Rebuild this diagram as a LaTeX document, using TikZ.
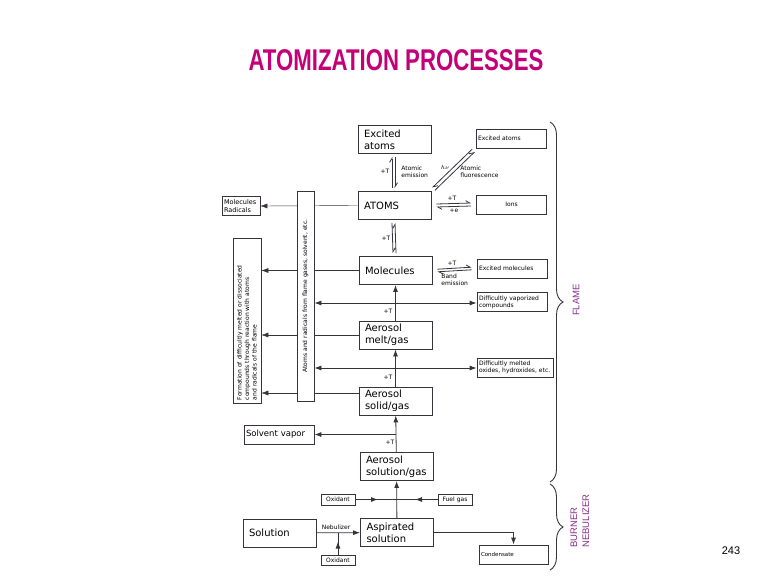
\documentclass[tikz,border=0pt]{standalone}
\usepackage{fontspec}
\setmainfont{DejaVu Sans}
\newfontfamily\headfont{Liberation Sans}
\usetikzlibrary{arrows.meta,backgrounds,decorations.pathreplacing,decorations.markings}
\definecolor{headcol}{RGB}{196,0,120}
\definecolor{ink}{RGB}{55,50,60}
\definecolor{zonecol}{RGB}{135,45,135}
\tikzset{
  box/.style={draw=ink,fill=white,line width=0.9pt,minimum width=73pt,minimum height=28pt,text width=61pt,inner sep=0pt,align=left,font=\fontsize{10}{12}\selectfont},
  sbox/.style={draw=ink,fill=white,line width=0.8pt,minimum height=19pt,text width=66pt,inner xsep=2pt,inner ysep=0pt,align=left,font=\fontsize{6}{7}\selectfont},
  tbox/.style={draw=ink,fill=white,line width=0.8pt,inner xsep=3pt,inner ysep=1pt,align=left,font=\fontsize{6}{7.5}\selectfont},
  lbl/.style={inner sep=0pt,align=left,font=\fontsize{6}{7}\selectfont},
  harp/.style={-{Straight Barb[left,length=4pt,width=5pt]},line width=0.8pt,draw=ink},
  curly/.style={decorate,decoration={brace,amplitude=13pt,aspect=0.5},line width=0.9pt,draw=ink},
  midarrow/.style={decoration={markings,mark=at position #1 with {\arrow{Latex[length=7pt,width=5pt]}}},postaction={decorate}},
  zone/.style={text=zonecol,inner sep=0pt,align=left,font=\headfont\fontsize{9.5}{12}\selectfont,rotate=90},
}
\begin{document}
\begin{tikzpicture}[x=1pt,y=-1pt,>={Latex[length=7pt,width=5pt]},line width=0.8pt]
\useasboundingbox (0,0) rectangle (767,578);
\node[text=headcol,font=\headfont\bfseries\fontsize{30}{30}\selectfont,xscale=0.74] (head) at (396,60) {ATOMIZATION PROCESSES};
\node[font=\headfont\fontsize{11}{11}\selectfont] (page) at (731,551) {243};

\node[box] (exa) at (394.5,139.5) {Excited\\atoms};
\node[box] (atoms) at (394.5,205.5) {ATOMS};
\node[box] (mol) at (395.5,270.5) {Molecules};
\node[box] (melt) at (395.5,335) {Aerosol\\melt/gas};
\node[box] (solid) at (395.5,401) {Aerosol\\solid/gas};
\node[box] (soln) at (396.5,466.5) {Aerosol\\solution/gas};
\node[box] (asp) at (397,532.5) {Aspirated\\solution};
\node[box] (sol) at (279.5,533) {Solution};

\node[sbox] (exr) at (511,138.5) {Excited atoms};
\node[sbox,align=center] (ions) at (511.5,204.5) {Ions};
\node[sbox] (exm) at (512,268.5) {Excited molecules};
\node[sbox] (dvc) at (512,302) {Difficultly vaporized\\compounds};
\node[sbox,text width=72pt] (dmo) at (515,367.5) {Difficultly melted\\oxides, hydroxides, etc.};
\node[sbox,text width=34pt,font=\fontsize{6.5}{7.5}\selectfont] (molrad) at (241,206) {Molecules\\Radicals};
\node[sbox,text width=66pt,font=\fontsize{8.5}{10}\selectfont] (solv) at (279,434.5) {Solvent vapor};
\node[sbox,text width=30pt,minimum height=11pt,align=center] (oxt) at (338,499.5) {Oxidant};
\node[sbox,text width=30pt,minimum height=11pt,align=center] (fuel) at (455,499.5) {Fuel gas};
\node[sbox,text width=30pt,minimum height=10pt,align=center] (oxb) at (338,560.5) {Oxidant};
\node[sbox,text width=65pt,font=\fontsize{5.5}{6.5}\selectfont] (cond) at (513.5,554.5) {Condensate};

\node[tbox,rotate=90,text width=159pt,minimum height=28pt] (form) at (247,320.5) {Formation of difficultly melted or dissociated\\compounds through reaction with atoms\\and radicals of the flame};
\node[tbox,rotate=90,text width=204pt,minimum height=17pt,align=center,font=\fontsize{6}{7}\selectfont] (arad) at (305.5,296) {Atoms and radicals from flame gases, solvent, etc.};

\begin{scope}[on background layer]
\draw[->,ink] (atoms.west) -- (molrad.east);
\draw[->,ink] (mol.west) -- (mol.west -| form.south);
\draw[->,ink] (melt.west) -- (melt.west -| form.south);
\coordinate (s1) at ([yshift=8pt]solid.west);
\draw[->,ink] (s1) -- (s1 -| form.south);
\end{scope}

\draw[harp] ([xshift=-2.5pt,yshift=3pt]atoms.north) -- ([xshift=-2.5pt,yshift=-3pt]exa.south);
\draw[harp] ([xshift=0.5pt,yshift=-3pt]exa.south) -- ([xshift=0.5pt,yshift=3pt]atoms.north);
\draw[harp] ([xshift=-2.5pt,yshift=-3pt]atoms.south) -- ([xshift=-2.5pt,yshift=3pt]mol.north);
\draw[harp] ([xshift=0.5pt,yshift=3pt]mol.north) -- ([xshift=0.5pt,yshift=-3pt]atoms.south);
\draw[harp,shorten <=3pt,shorten >=3pt] ([shift={(-1.3pt,1.3pt)}]exr.south west) -- ([shift={(-1.3pt,1.3pt)}]atoms.north east);
\draw[harp,shorten <=3pt,shorten >=3pt] ([shift={(1.3pt,-1.3pt)}]atoms.north east) -- ([shift={(1.3pt,-1.3pt)}]exr.south west);
\draw[harp] ([xshift=5pt,yshift=1.5pt]atoms.east) -- ([xshift=-5pt,yshift=1.5pt]ions.west);
\draw[harp] ([xshift=-5pt,yshift=-1.5pt]ions.west) -- ([xshift=5pt,yshift=-1.5pt]atoms.east);
\draw[harp] ([xshift=5pt,yshift=1.3pt]mol.east) -- ([xshift=-5pt,yshift=1.3pt]exm.west);
\draw[harp] ([xshift=-5pt,yshift=-1.3pt]exm.west) -- ([xshift=5pt,yshift=-1.3pt]mol.east);

\node[lbl] (t1) at (385,171) {+T};
\node[lbl] (t2) at (386,238) {+T};
\node[lbl] (t3) at (388,311) {+T};
\node[lbl] (t4) at (388,377) {+T};
\node[lbl] (t5) at (390,442) {+T};
\node[lbl] (t6) at (452,198) {+T};
\node[lbl] (t7) at (452,263) {+T};
\node[lbl] (e1) at (454,211) {+e};
\node[lbl,anchor=west] (em) at (401,172) {Atomic\\emission};
\node[lbl] (hnu) at (445,167) {$h\nu$};
\node[lbl,anchor=west] (fl) at (460,172) {Atomic\\fluorescence};
\node[lbl,anchor=west] (band) at (441,280) {Band\\emission};
\node[lbl] (neb) at (336,527) {Nebulizer};

\coordinate (j1) at (395.5,303);
\draw[->,ink] (j1) -- (j1 -| dvc.west);
\draw[->,ink] (j1) -- (j1 -| arad.south);
\coordinate (j2) at (395.5,368);
\draw[->,ink] (j2) -- (j2 -| dmo.west);
\draw[->,ink] (j2) -- (j2 -| arad.south);

\draw[->,ink] (melt) -- (mol);
\draw[->,ink] (solid) -- (melt);
\draw[->,ink] (soln) -- (solid);
\draw[->,ink] (asp) -- (soln);
\coordinate (j3) at (396,434.5);
\draw[->,ink] (j3) -- (solv);
\coordinate (j4) at (396.5,499.5);
\draw[ink,midarrow=0.55] (oxt) -- (j4);
\draw[ink,midarrow=0.55] (fuel) -- (j4);
\draw[->,ink] (sol) -- (asp);
\coordinate (j5) at (338,532.5);
\draw[ink,midarrow=0.6] (oxb) -- (j5);
\draw[->,ink] (asp.east) -| (cond.north);

\coordinate (f1) at (550,122);
\coordinate (f2) at (550,482);
\coordinate (b1) at (550,484);
\coordinate (b2) at (550,570);
\draw[curly] (f1) -- (f2);
\draw[curly] (b1) -- (b2);
\node[zone] (flame) at (576,300) {FLAME};
\node[zone] (burner) at (580,521) {BURNER\\NEBULIZER};
\end{tikzpicture}
\end{document}
